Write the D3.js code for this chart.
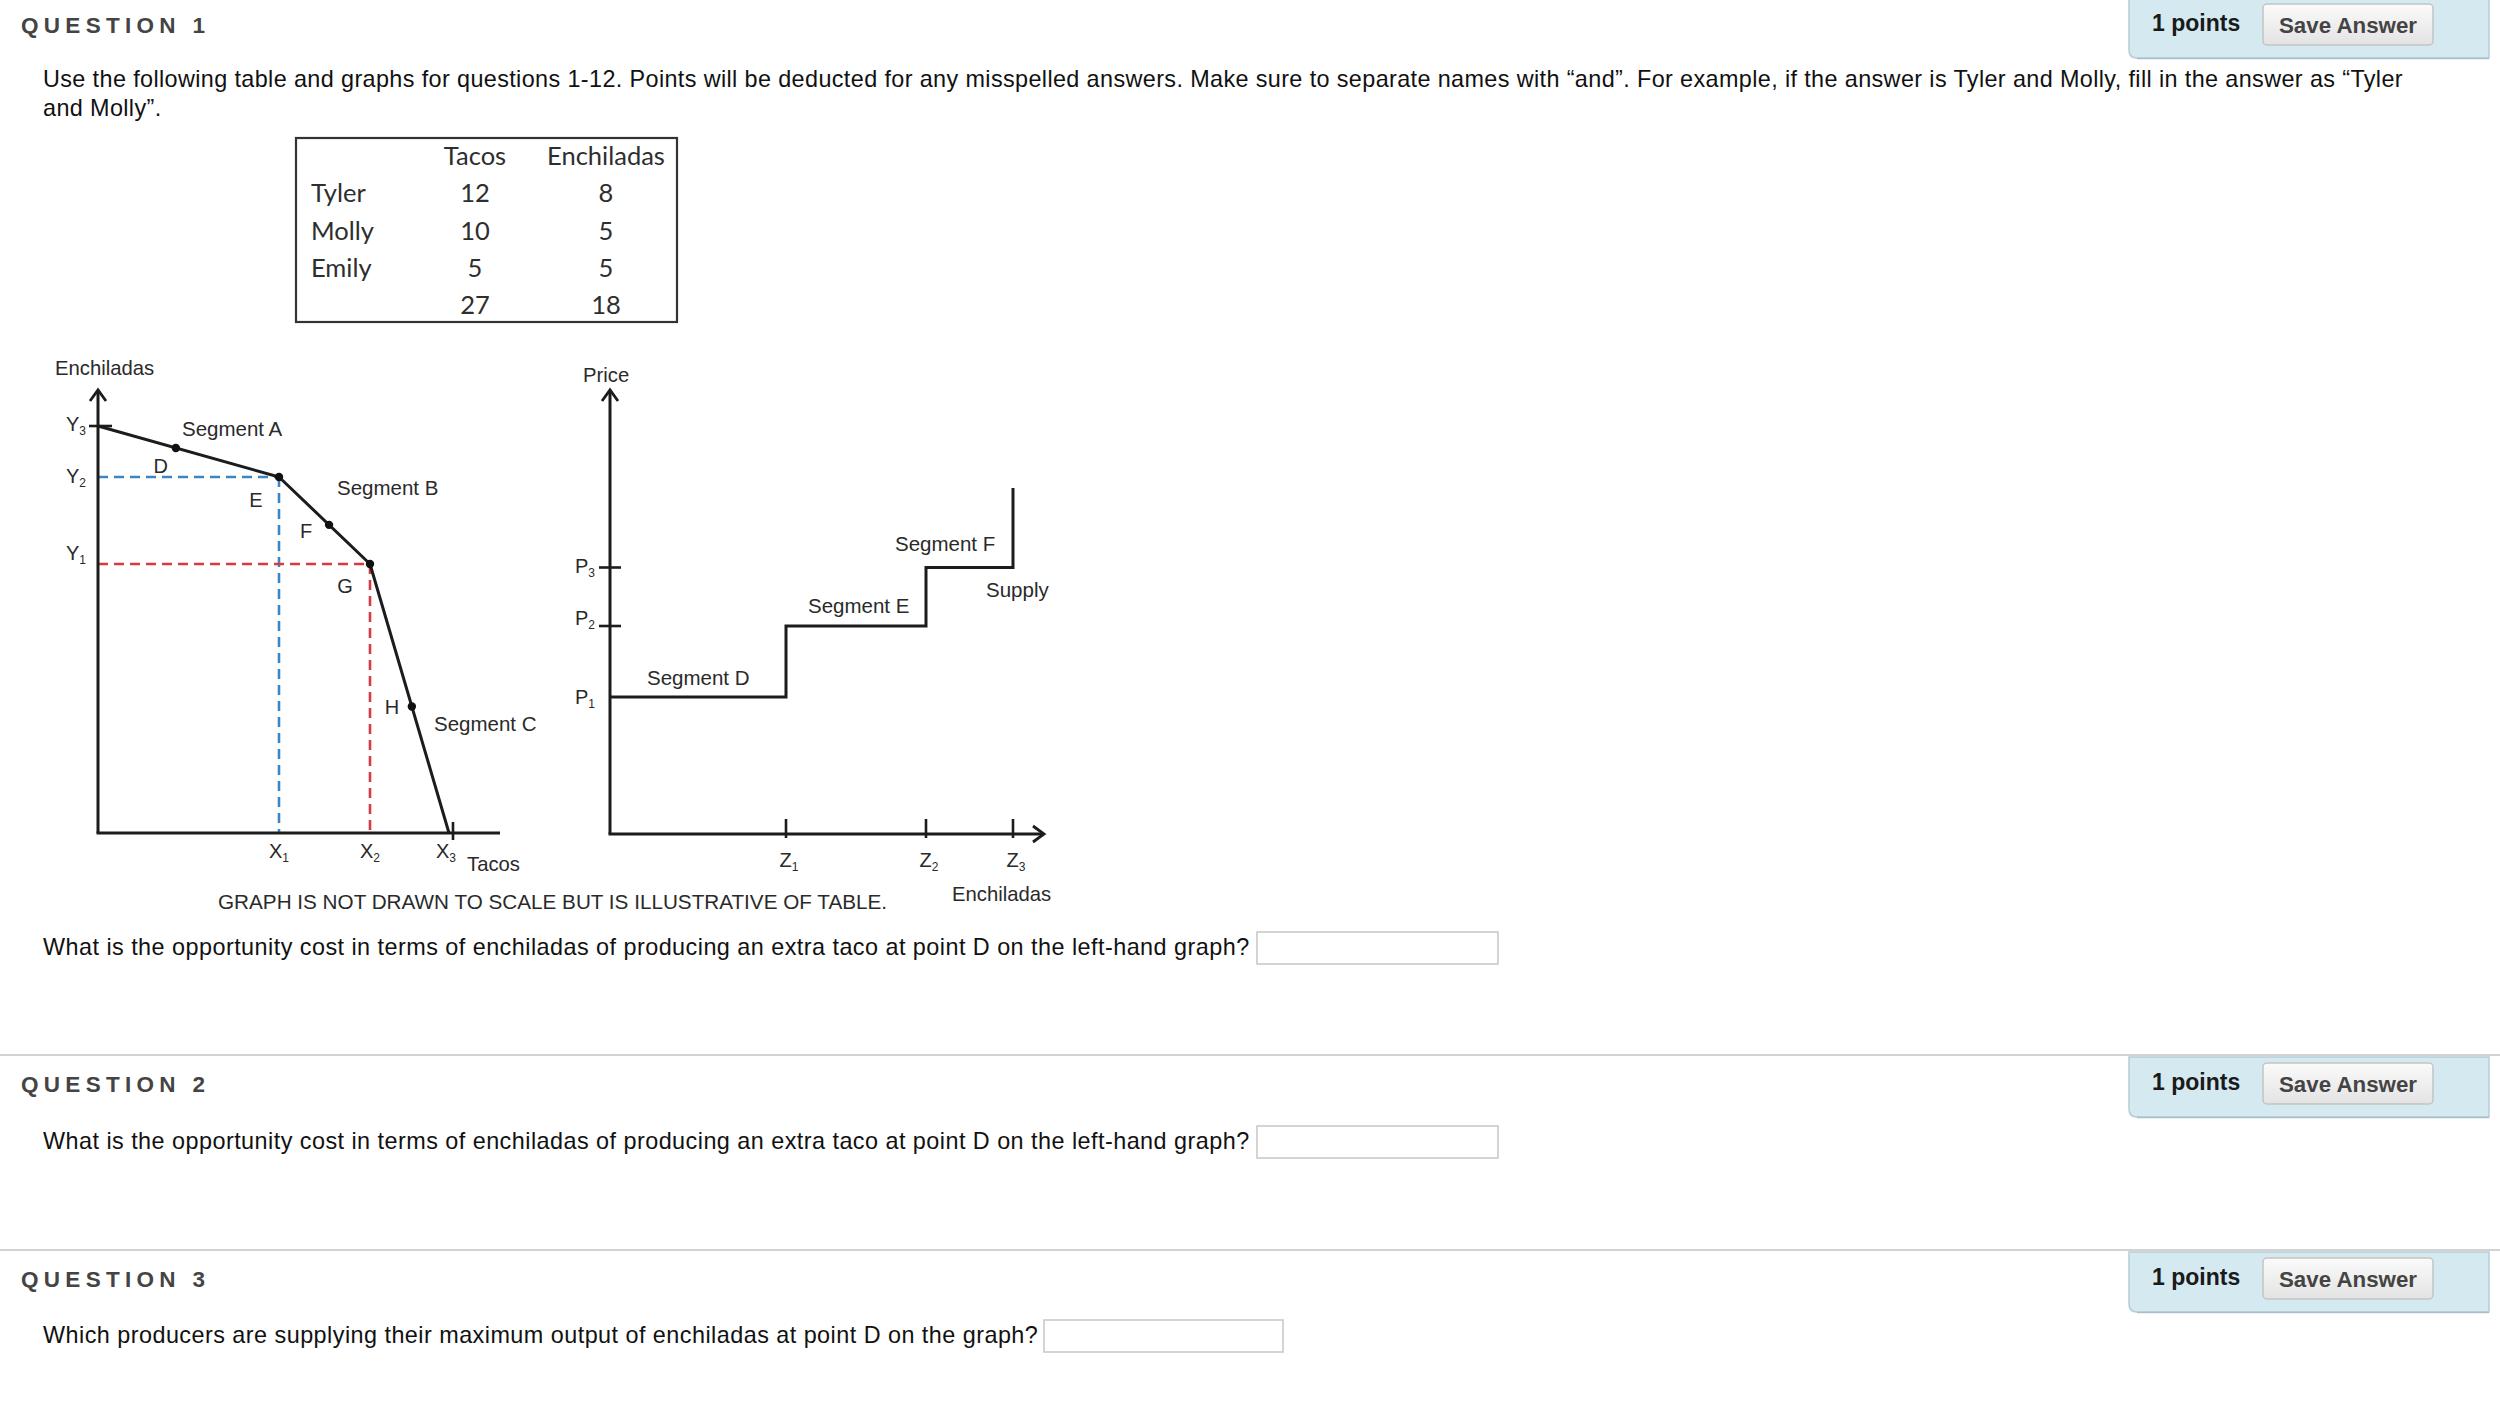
<!DOCTYPE html>
<html>
<head>
<meta charset="utf-8">
<script src="https://cdn.jsdelivr.net/npm/d3@7"></script>
<style>
  html, body { margin: 0; padding: 0; background: #fff; }
  svg { display: block; }
</style>
</head>
<body>
<script>
// ---------------- DATA ----------------
const questionTitles = ["QUESTION 1", "QUESTION 2", "QUESTION 3"];
const pointsLabel = "1 points";
const saveLabel = "Save Answer";
const introLines = [
  "Use the following table and graphs for questions 1-12. Points will be deducted for any misspelled answers. Make sure to separate names with \u201cand\u201d. For example, if the answer is Tyler and Molly, fill in the answer as \u201cTyler",
  "and Molly\u201d."
];
const questionTexts = [
  "What is the opportunity cost in terms of enchiladas of producing an extra taco at point D on the left-hand graph?",
  "What is the opportunity cost in terms of enchiladas of producing an extra taco at point D on the left-hand graph?",
  "Which producers are supplying their maximum output of enchiladas at point D on the graph?"
];
const disclaimer = "GRAPH IS NOT DRAWN TO SCALE BUT IS ILLUSTRATIVE OF TABLE.";

// Table
const tableHeaders = ["Tacos", "Enchiladas"];
const producers = ["Tyler", "Molly", "Emily"];
const tacos = [12, 10, 5];
const enchiladas = [8, 5, 5];
const totals = [27, 18];

// Left graph: production possibilities frontier (tacos, enchiladas)
const ppfTacos = [0, 10, 22, 27];
const ppfEnchiladas = [18, 13, 5, 0];
const ppfPointNames = ["D", "E", "F", "G", "H"];
const ppfPointTacos = [4.3, 10, 16.6, 22, 24.65];
const ppfPointEnch = [15.85, 13, 8.6, 5, 2.35];
const ppfSegmentNames = ["Segment A", "Segment B", "Segment C"];
const ppfXTicks = [10, 22, 27];   // X1, X2, X3
const ppfYTicks = [5, 13, 18];    // Y1, Y2, Y3

// Right graph: supply of enchiladas (price in tacos)
const supplyQty = [0, 5, 13, 18];
const supplyPrice = [1, 1.5, 2];
const supplyTopPrice = 2.68;
const supplySegmentNames = ["Segment D", "Segment E", "Segment F"];
const zTicks = [5, 13, 18];       // Z1, Z2, Z3
const pTicks = [1, 1.5, 2];       // P1, P2, P3

// ---------------- SETUP ----------------
const W = 2500, H = 1411;
const svg = d3.select("body").append("svg").attr("width", W).attr("height", H);
svg.append("rect").attr("width", W).attr("height", H).attr("fill", "#fff");

const defs = svg.append("defs");
const grad = defs.append("linearGradient").attr("id", "btn").attr("x1", 0).attr("y1", 0).attr("x2", 0).attr("y2", 1);
grad.append("stop").attr("offset", "0%").attr("stop-color", "#fbfbfb");
grad.append("stop").attr("offset", "100%").attr("stop-color", "#e3e3e3");

const pageFont = "'Liberation Sans', Arial, Helvetica, sans-serif";
const bodySize = 23.4;
const bodySpacing = "0.46px";

// ---------------- QUESTION BLOCKS ----------------
const blockOffsets = [0, 1059, 1254];
const inputBoxes = [
  {x: 1257, y: 932, w: 241, h: 32},
  {x: 1257, y: 1126, w: 241, h: 32},
  {x: 1044, y: 1320, w: 239, h: 32}
];
const questionBaselines = [955, 1149, 1343];

blockOffsets.forEach((off, i) => {
  const g = svg.append("g");
  if (i > 0) {
    g.append("line").attr("x1", 0).attr("x2", W).attr("y1", off - 4).attr("y2", off - 4)
      .attr("stroke", "#d2d2d2").attr("stroke-width", 2);
  }
  // panel
  const top = i === 0 ? -10 : off - 2, bot = off + 58, left = 2129, right = 2489, r = 8;
  g.append("path")
    .attr("d", `M${left},${top} L${right},${top} L${right},${bot} L${left + r},${bot} Q${left},${bot} ${left},${bot - r} Z`)
    .attr("fill", "#d4e9f0").attr("stroke", "#b7ccd4").attr("stroke-width", 1.5);
  g.append("line").attr("x1", left + r).attr("x2", right).attr("y1", bot + 0.5).attr("y2", bot + 0.5)
    .attr("stroke", "#aac0c9").attr("stroke-width", 1.5);
  // title
  g.append("text").attr("x", 21).attr("y", off + 33)
    .attr("font-family", pageFont).attr("font-weight", "bold").attr("font-size", 22.5)
    .attr("letter-spacing", "5.3px").attr("fill", "#444").text(questionTitles[i]);
  // points
  g.append("text").attr("x", 2152).attr("y", off + 31)
    .attr("font-family", pageFont).attr("font-weight", "bold").attr("font-size", 23)
    .attr("fill", "#1a1a1a").text(pointsLabel);
  // button
  g.append("rect").attr("x", 2263).attr("y", off + 4).attr("width", 170).attr("height", 41).attr("rx", 4)
    .attr("fill", "url(#btn)").attr("stroke", "#c4c4c4").attr("stroke-width", 1.5);
  g.append("text").attr("x", 2348).attr("y", off + 33).attr("text-anchor", "middle")
    .attr("font-family", pageFont).attr("font-weight", "bold").attr("font-size", 22.3)
    .attr("fill", "#444").text(saveLabel);
  // question text & input
  g.append("text").attr("x", 43).attr("y", questionBaselines[i])
    .attr("font-family", pageFont).attr("font-size", bodySize).attr("letter-spacing", bodySpacing)
    .attr("fill", "#111").text(questionTexts[i]);
  const b = inputBoxes[i];
  g.append("rect").attr("x", b.x).attr("y", b.y).attr("width", b.w).attr("height", b.h)
    .attr("fill", "#fff").attr("stroke", "#c6c6c6").attr("stroke-width", 1.5);
});

// intro paragraph
introLines.forEach((t, i) => {
  svg.append("text").attr("x", 43).attr("y", 87 + i * 29)
    .attr("font-family", pageFont).attr("font-size", bodySize).attr("letter-spacing", "0.38px")
    .attr("fill", "#111").text(t);
});

// ---------------- TABLE ----------------
const tg = svg.append("g").attr("font-family", "Lato, 'Open Sans', sans-serif").attr("font-size", 25.5).attr("fill", "#2e2e2e");
tg.append("rect").attr("x", 296).attr("y", 138).attr("width", 381).attr("height", 184)
  .attr("fill", "#fff").attr("stroke", "#333").attr("stroke-width", 2.2);
const colX = d3.scalePoint().domain(tableHeaders).range([475, 606]);
const rowY = d3.scalePoint().domain(["head", ...producers, "total"]).range([165, 314]);
tableHeaders.forEach(h => tg.append("text").attr("x", colX(h)).attr("y", rowY("head")).attr("text-anchor", "middle").text(h));
producers.forEach((p, i) => {
  tg.append("text").attr("x", 311).attr("y", rowY(p)).text(p);
  tg.append("text").attr("x", colX("Tacos")).attr("y", rowY(p)).attr("text-anchor", "middle").text(tacos[i]);
  tg.append("text").attr("x", colX("Enchiladas")).attr("y", rowY(p)).attr("text-anchor", "middle").text(enchiladas[i]);
});
totals.forEach((t, i) => tg.append("text").attr("x", colX(tableHeaders[i])).attr("y", rowY("total")).attr("text-anchor", "middle").text(t));

// ---------------- HELPERS ----------------
const diagFont = "'Liberation Sans', Arial, sans-serif";
const ink = "#1c1c1c";
function subLabel(g, base, sub, x, yCenter, anchor) {
  const t = g.append("text").attr("x", x).attr("y", yCenter + 7).attr("text-anchor", anchor || "middle")
    .attr("font-family", diagFont).attr("font-size", 20).attr("fill", "#2a2a2a");
  t.append("tspan").text(base);
  t.append("tspan").attr("font-size", 12).attr("dy", 4).text(sub);
  return t;
}
function label(g, text, x, yCenter, anchor, size) {
  return g.append("text").attr("x", x).attr("y", yCenter + 7).attr("text-anchor", anchor || "start")
    .attr("font-family", diagFont).attr("font-size", size || 20.5).attr("fill", "#2a2a2a").text(text);
}
function arrowUp(g, x, y) {
  g.append("path").attr("d", `M${x - 8},${y + 11} L${x},${y} L${x + 8},${y + 11}`)
    .attr("fill", "none").attr("stroke", ink).attr("stroke-width", 2.8);
}
function arrowRight(g, x, y) {
  g.append("path").attr("d", `M${x - 11},${y - 8} L${x},${y} L${x - 11},${y + 8}`)
    .attr("fill", "none").attr("stroke", ink).attr("stroke-width", 2.8);
}

// ---------------- LEFT GRAPH (PPF) ----------------
const L = svg.append("g");
const xL = d3.scaleLinear().domain(ppfTacos).range([98, 279, 370, 449]);
const yL = d3.scaleLinear().domain([...ppfEnchiladas].reverse()).range([833, 564, 477, 426]);
const leftAxisTop = 391, leftAxisRight = 500;

// dashed guides
const guides = [{i: 1, color: "#3d86c6"}, {i: 2, color: "#d83a42"}];
guides.forEach(gd => {
  const px = xL(ppfTacos[gd.i]), py = yL(ppfEnchiladas[gd.i]);
  L.append("path").attr("d", `M${xL(0)},${py} L${px},${py} M${px},${py} L${px},${yL(0)}`)
    .attr("fill", "none").attr("stroke", gd.color).attr("stroke-width", 2.6).attr("stroke-dasharray", "10,6");
});

// axes
L.append("line").attr("x1", xL(0)).attr("x2", xL(0)).attr("y1", leftAxisTop).attr("y2", yL(0))
  .attr("stroke", ink).attr("stroke-width", 3);
L.append("line").attr("x1", xL(0) - 1.5).attr("x2", leftAxisRight).attr("y1", yL(0)).attr("y2", yL(0))
  .attr("stroke", ink).attr("stroke-width", 3);
arrowUp(L, xL(0), leftAxisTop - 1);
// Y3 tick and X3 tick
L.append("line").attr("x1", xL(0) - 9).attr("x2", xL(0) + 14).attr("y1", yL(18)).attr("y2", yL(18))
  .attr("stroke", ink).attr("stroke-width", 2.6);
L.append("line").attr("x1", xL(27) + 4).attr("x2", xL(27) + 4).attr("y1", yL(0) - 11).attr("y2", yL(0) + 7)
  .attr("stroke", ink).attr("stroke-width", 2.6);

// frontier
const ppfLine = d3.line().x(d => xL(d[0])).y(d => yL(d[1]));
L.append("path").attr("d", ppfLine(ppfTacos.map((t, i) => [t, ppfEnchiladas[i]])))
  .attr("fill", "none").attr("stroke", ink).attr("stroke-width", 3).attr("stroke-linejoin", "round");
L.selectAll("circle.pt").data(ppfPointNames).join("circle").attr("class", "pt")
  .attr("cx", (d, i) => xL(ppfPointTacos[i])).attr("cy", (d, i) => yL(ppfPointEnch[i]))
  .attr("r", 4.2).attr("fill", "#111");

// point labels (offsets from the marked points)
const ptOffsets = {D: [-15, 18], E: [-23, 23], F: [-23, 6], G: [-25, 22], H: [-20, 0]};
ppfPointNames.forEach((n, i) => {
  label(L, n, xL(ppfPointTacos[i]) + ptOffsets[n][0], yL(ppfPointEnch[i]) + ptOffsets[n][1], "middle", 20);
});
// segment labels
const segPos = [[182, 429], [337, 488], [434, 724]];
ppfSegmentNames.forEach((s, i) => label(L, s, segPos[i][0], segPos[i][1], "start", 20.5));

// axis labels
label(L, "Enchiladas", 55, 368, "start", 20.3);
label(L, "Tacos", 467, 864, "start", 20.3);
const ySubOffsets = [-9, 1, 0];
ppfYTicks.forEach((v, i) => subLabel(L, "Y", String(i + 1), 86, yL(v) + ySubOffsets[i] - 2, "end"));
ppfXTicks.forEach((v, i) => subLabel(L, "X", String(i + 1), xL(v) + (i === 2 ? -3 : 0), 851, "middle"));

// ---------------- RIGHT GRAPH (SUPPLY) ----------------
const R = svg.append("g");
const xR = d3.scaleLinear().domain(supplyQty).range([610, 786, 926, 1013]);
const yR = d3.scaleLinear().domain([0, ...supplyPrice]).range([834, 697, 626, 567.5]);
const rightAxisTop = 391, rightAxisRight = 1043;

R.append("line").attr("x1", xR(0)).attr("x2", xR(0)).attr("y1", rightAxisTop).attr("y2", yR(0))
  .attr("stroke", ink).attr("stroke-width", 3);
R.append("line").attr("x1", xR(0) - 1.5).attr("x2", rightAxisRight).attr("y1", yR(0)).attr("y2", yR(0))
  .attr("stroke", ink).attr("stroke-width", 3);
arrowUp(R, xR(0), rightAxisTop - 1);
arrowRight(R, rightAxisRight + 1, yR(0));

pTicks.forEach((v, i) => {
  if (i > 0) R.append("line").attr("x1", xR(0) - 11).attr("x2", xR(0) + 11).attr("y1", yR(v)).attr("y2", yR(v))
    .attr("stroke", ink).attr("stroke-width", 2.6);
});
zTicks.forEach(v => {
  R.append("line").attr("x1", xR(v)).attr("x2", xR(v)).attr("y1", yR(0) - 15).attr("y2", yR(0) + 4)
    .attr("stroke", ink).attr("stroke-width", 2.6);
});

// supply step line
const stepPts = [];
supplyPrice.forEach((p, i) => { stepPts.push([supplyQty[i], p]); stepPts.push([supplyQty[i + 1], p]); });
stepPts.push([supplyQty[supplyQty.length - 1], supplyTopPrice]);
R.append("path").attr("d", d3.line().x(d => xR(d[0])).y(d => yR(d[1]))(stepPts))
  .attr("fill", "none").attr("stroke", ink).attr("stroke-width", 3);

// labels
label(R, "Price", 583, 375, "start", 20.3);
label(R, "Enchiladas", 952, 894, "start", 20.3);
label(R, "Supply", 986, 590, "start", 20.5);
const supSegPos = [[647, 678], [808, 606], [895, 544]];
supplySegmentNames.forEach((s, i) => label(R, s, supSegPos[i][0], supSegPos[i][1], "start", 20.5));
const pLabelCenters = [700, 621, 569];
pTicks.forEach((v, i) => subLabel(R, "P", String(i + 1), 595, pLabelCenters[i] - 3, "end"));
zTicks.forEach((v, i) => subLabel(R, "Z", String(i + 1), xR(v) + 3, 860, "middle"));

// disclaimer
svg.append("text").attr("x", 218).attr("y", 909).attr("font-family", diagFont).attr("font-size", 20.7)
  .attr("fill", "#2a2a2a").text(disclaimer);
</script>
</body>
</html>
